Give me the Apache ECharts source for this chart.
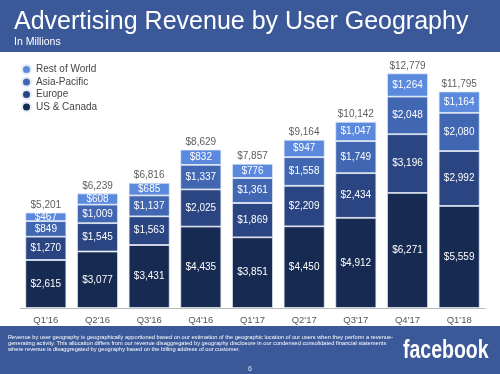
<!DOCTYPE html>
<html><head><meta charset="utf-8">
<script src="https://cdn.jsdelivr.net/npm/echarts@6/dist/echarts.min.js"></script>
<style>html,body{margin:0;padding:0;background:#fff}#c{width:500px;height:374px}</style>
</head><body><div id="c"></div>
<script>
const categories = ["Q1'16","Q2'16","Q3'16","Q4'16","Q1'17","Q2'17","Q3'17","Q4'17","Q1'18"];
const usCanada = [2615,3077,3431,4435,3851,4450,4912,6271,5559];
const europe = [1270,1545,1563,2025,1869,2209,2434,3196,2992];
const asiaPacific = [849,1009,1137,1337,1361,1558,1749,2048,2080];
const restOfWorld = [467,608,685,832,776,947,1047,1264,1164];
const totals = [5201,6239,6816,8629,7857,9164,10142,12779,11795];
const seriesNames = ["US & Canada","Europe","Asia-Pacific","Rest of World"];
const colors = ["#172a52","#2a4581","#4166b2","#5a89dd"];
const fmt = v => '$' + v.toLocaleString('en-US');

const chart = echarts.init(document.getElementById('c'));
const font = 'Liberation Sans, Arial, sans-serif';
const segLabel = {show:true, position:'inside', color:'#fff', fontSize:10, fontFamily:font,
  formatter:p=>fmt(p.value)};
const mk = (name, data, i) => ({
  name, type:'bar', stack:'t', data, barWidth:41,
  itemStyle:{color:colors[i], borderColor:'#e6ecf6', borderWidth:0.8},
  label:segLabel, emphasis:{disabled:true}
});
chart.setOption({
  animation:false,
  textStyle:{fontFamily:font},
  graphic:[
    {type:'rect', shape:{x:0,y:0,width:500,height:52}, style:{fill:'#3b5998'}, z:-1},
    {type:'text', left:14, top:10, style:{text:'Advertising Revenue by User Geography', fill:'#fff', font:'25px '+font}},
    {type:'text', left:14, top:37, style:{text:'In Millions', fill:'#fff', font:'10.5px '+font}},
    {type:'rect', shape:{x:0,y:326,width:500,height:48}, style:{fill:'#3b5998'}, z:-1},
    {type:'text', left:8, top:334, style:{text:'Revenue by user geography is geographically apportioned based on our estimation of the geographic location of our users when they perform a revenue-\ngenerating activity. This allocation differs from our revenue disaggregated by geography disclosure in our condensed consolidated financial statements\nwhere revenue is disaggregated by geography based on the billing address of our customer.', fill:'#fff', font:'5.7px '+font, lineHeight:6.2}},
    {type:'text', x:403, y:339, scaleX:0.78, style:{text:'facebook', fill:'#fff', font:'bold 25px '+font}},
    {type:'text', left:248, top:366, style:{text:'6', fill:'#dfe6f2', font:'7px '+font}}
  ],
  legend:{
    orient:'vertical', left:16, top:59, itemGap:1.5, itemWidth:11, itemHeight:9, icon:'circle',
    data:["Rest of World","Asia-Pacific","Europe","US & Canada"],
    textStyle:{fontSize:10, color:'#444', fontFamily:font, padding:[0,0,0,-1]}
  },
  grid:{left:20, right:15, top:51, bottom:66},
  xAxis:{type:'category', data:categories,
    axisLine:{lineStyle:{color:'#bbb'}}, axisTick:{show:false},
    axisLabel:{color:'#555', fontSize:9.5, margin:7, fontFamily:font}},
  yAxis:{type:'value', min:0, max:14000, show:false, splitLine:{show:false}},
  series:[
    mk(seriesNames[0], usCanada, 0),
    mk(seriesNames[1], europe, 1),
    mk(seriesNames[2], asiaPacific, 2),
    mk(seriesNames[3], restOfWorld, 3),
    {name:'Total', type:'scatter', data:totals, symbolSize:1, itemStyle:{color:'rgba(0,0,0,0)'},
     label:{show:true, position:'top', distance:2, color:'#333', fontSize:10, fontFamily:font, formatter:p=>fmt(p.value)},
     emphasis:{disabled:true}, z:5}
  ]
});
</script></body></html>
